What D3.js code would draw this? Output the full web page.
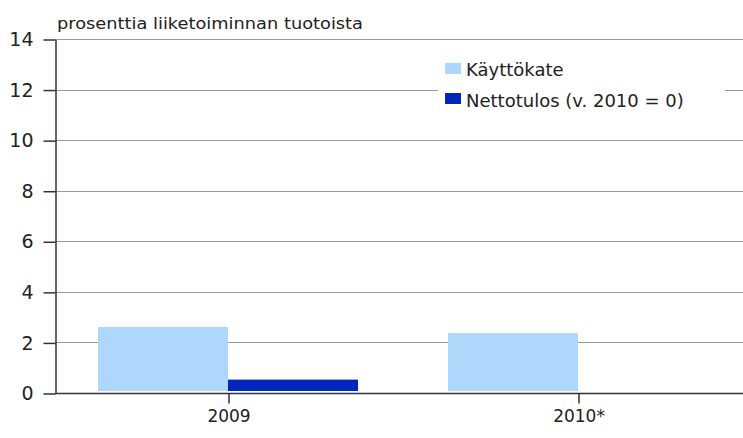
<html lang="fi">
  <head>
    <meta charset="UTF-8" />
    <title>Käyttökate ja nettotulos</title>
    <script src="https://d3js.org/d3.v7.min.js"></script>
  </head>
  <body>
    <style>
      body {
        margin: 0;
        padding: 0;
        background: #ffffff;
        font-family: "DejaVu Sans", Arial, sans-serif;
      }
      svg {
        display: block;
      }
      text {
        fill: #222;
      }
    </style>
    <script>
      const w = 743;
      const h = 438;
      const margin = { top: 39, right: -11, bottom: 45, left: 55 };

      const years = ["2009", "2010*"];
      const kayttokate = [2.61, 2.37];
      const nettotulos = [0.53, 0];
      const seriesNames = ["Käyttökate", "Nettotulos (v. 2010 = 0)"];
      const colors = ["#aed8fb", "#0027b9"];
      const yTicks = [0, 2, 4, 6, 8, 10, 12, 14];

      const svg = d3
        .select("body")
        .append("svg")
        .attr("width", w)
        .attr("height", h);

      const xScale = d3
        .scaleBand()
        .domain(years)
        .range([margin.left - 1, w - margin.right]);

      const yScale = d3
        .scaleLinear()
        .domain([0, 14])
        .range([h - margin.bottom, margin.top]);

      // gridlines
      svg
        .append("g")
        .selectAll("line")
        .data(yTicks.filter((d) => d > 0))
        .enter()
        .append("line")
        .attr("x1", margin.left)
        .attr("x2", w)
        .attr("y1", (d) => Math.round(yScale(d)) + 0.5)
        .attr("y2", (d) => Math.round(yScale(d)) + 0.5)
        .attr("stroke", "#9a9a9a")
        .attr("stroke-width", 1.2);

      // bars
      const barW = 130;
      const series = [kayttokate, nettotulos];
      series.forEach((vals, s) => {
        svg
          .append("g")
          .selectAll("rect")
          .data(vals)
          .enter()
          .append("rect")
          .attr("x", (d, i) => xScale(years[i]) + xScale.bandwidth() / 2 - barW + s * barW - 1)
          .attr("y", (d) => yScale(d))
          .attr("width", barW)
          .attr("height", (d) => Math.max(0, yScale(0) - yScale(d) - 2))
          .attr("fill", colors[s]);
      });

      // y axis
      const yAxis = d3
        .axisLeft(yScale)
        .tickValues(yTicks)
        .tickSize(12)
        .tickPadding(10)
        .tickSizeOuter(0);
      const gy = svg
        .append("g")
        .attr("transform", `translate(${margin.left + 0.5}, 0.5)`)
        .call(yAxis);
      gy.selectAll("path, line").attr("stroke", "#333").attr("stroke-width", 1.5);
      gy.selectAll("text")
        .style("font-size", "19px")
        .style("font-family", "'DejaVu Sans', sans-serif");

      // x axis
      const xAxis = d3.axisBottom(xScale).tickSize(10).tickPadding(6).tickSizeOuter(0);
      const gx = svg
        .append("g")
        .attr("transform", `translate(0, ${Math.round(yScale(0)) + 0.5})`)
        .call(xAxis);
      gx.select("path").attr("d", `M${margin.left},0H${w}`);
      gx.selectAll("path, line").attr("stroke", "#333").attr("stroke-width", 1.5);
      gx.selectAll("text")
        .style("font-size", "17px")
        .style("font-family", "'DejaVu Sans', sans-serif");

      // title
      svg
        .append("text")
        .attr("x", 57)
        .attr("y", 29)
        .style("font-size", "15px")
        .attr("textLength", 306)
        .attr("lengthAdjust", "spacingAndGlyphs")
        .text("prosenttia liiketoiminnan tuotoista");

      // legend
      const legend = svg.append("g").attr("transform", "translate(438, 52)");
      legend
        .append("rect")
        .attr("width", 287)
        .attr("height", 66)
        .attr("fill", "#fff");
      seriesNames.forEach((name, i) => {
        legend
          .append("rect")
          .attr("x", 7)
          .attr("y", 11 + i * 30)
          .attr("width", 16)
          .attr("height", 11)
          .attr("fill", colors[i]);
        legend
          .append("text")
          .attr("x", 28)
          .attr("y", 24 + i * 31)
          .style("font-size", "18px")
          .text(name);
      });
    </script>
  </body>
</html>
